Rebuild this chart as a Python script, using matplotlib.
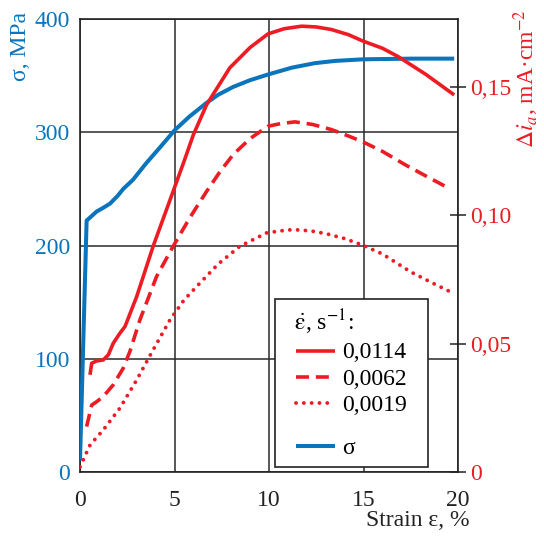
import matplotlib
matplotlib.use("Agg")
import matplotlib.pyplot as plt
from matplotlib.lines import Line2D
from matplotlib.legend_handler import HandlerLine2D

plt.rcParams['font.family'] = 'serif'
plt.rcParams['font.serif'] = ['Liberation Serif', 'DejaVu Serif']
plt.rcParams['mathtext.fontset'] = 'stix'

BLUE = '#0A74BD'
RED = '#ED1C24'

# sigma (left axis, MPa)
eps_sigma = [0, 0.35, 0.88, 1.2, 1.59, 2.0, 2.29, 2.8, 3.52, 4.2, 5.02, 5.8, 6.7, 7.3, 8.1,
             9.0, 9.95, 11.2, 12.42, 13.5, 14.97, 17.5, 19.8]
sigma = [10, 222, 230, 233, 237, 244, 250, 258, 273, 286, 302, 314, 326, 333, 340,
         346, 351, 357, 361, 363, 364.4, 365, 365]

# delta i_a (right axis, mA/cm2)
eps_a = [0.53, 0.62, 0.88, 1.23, 1.5, 1.76, 2.11, 2.38, 3.0, 3.87, 4.76, 5.5, 6.0, 6.7, 7.93,
         9.0, 9.95, 10.8, 11.72, 12.5, 13.3, 14.2, 14.97, 16.0, 16.82, 18.3, 19.8]
di_a = [0.0379, 0.0424, 0.0433, 0.0437, 0.0457, 0.0502, 0.0541, 0.0567, 0.0684, 0.088, 0.106,
        0.121, 0.1315, 0.1432, 0.1576, 0.1655, 0.1708, 0.1728, 0.1738, 0.1735, 0.1725, 0.1705,
        0.168, 0.1652, 0.162, 0.155, 0.147]

eps_b = [0.35, 0.62, 0.88, 1.23, 1.76, 2.29, 2.64, 3.17, 4.05, 4.93, 5.8, 6.7, 7.4, 8.1, 9.0,
         9.95, 10.6, 11.37, 12.3, 13.3, 14.2, 14.97, 16.0, 17.2, 18.4, 19.5]
di_b = [0.0177, 0.0261, 0.0274, 0.0294, 0.034, 0.0405, 0.047, 0.0593, 0.0762, 0.088, 0.099,
        0.1094, 0.117, 0.1237, 0.130, 0.1348, 0.1358, 0.1365, 0.1355, 0.1335, 0.131, 0.1287,
        0.125, 0.1198, 0.115, 0.1107]

eps_c = [0, 0.53, 1.23, 2.11, 3.0, 3.87, 4.76, 5.5, 6.17, 7.3, 8.46, 9.87, 10.6, 11.27, 12.2,
         13.03, 14.0, 14.9, 16.0, 17.5, 18.7, 19.8]
di_c = [0.002, 0.0105, 0.0164, 0.0249, 0.0359, 0.0476, 0.0593, 0.067, 0.0723, 0.081, 0.088,
        0.0932, 0.094, 0.0945, 0.094, 0.0929, 0.091, 0.0886, 0.085, 0.078, 0.0735, 0.0695]

rate_labels = ['0,0114', '0,0062', '0,0019']
x_ticks = [0, 5, 10, 15, 20]
left_ticks = [0, 100, 200, 300, 400]
right_ticks = [0, 0.05, 0.10, 0.15]
right_ticklabels = ['0', '0,05', '0,10', '0,15']


class IndentHandler(HandlerLine2D):
    """Line handle drawn with a left indent, centred on the label's digits."""
    def __init__(self, indent, **kw):
        super().__init__(**kw)
        self.indent = indent

    def create_artists(self, legend, orig_handle, xdescent, ydescent, width, height,
                       fontsize, trans):
        artists = super().create_artists(legend, orig_handle, xdescent - self.indent, ydescent,
                                         width - self.indent, height, fontsize, trans)
        for a in artists:
            yd = a.get_ydata()
            a.set_ydata([0.33 * fontsize] * len(yd))
        return artists


W, H = 544, 536
fig = plt.figure(figsize=(W / 100, H / 100), dpi=100)
ax = fig.add_axes([80 / W, (H - 472) / H, 378 / W, 453 / H])
ax2 = ax.twinx()

FS = 17

ax.set_xlim(0, 20)
ax.set_ylim(0, 400)
ax.set_xticks(x_ticks)
ax.set_yticks(left_ticks)
ax.grid(True, color='#2a2a2a', linewidth=1.1)
ax.set_axisbelow(True)
ax.tick_params(axis='y', length=0, pad=7, labelsize=FS, labelcolor=BLUE)
ax.tick_params(axis='x', length=0, pad=13, labelsize=FS, labelcolor='#222222')
for s in ax.spines.values():
    s.set_color('#222222')
    s.set_linewidth(1.2)

hb, = ax.plot(eps_sigma, sigma, color=BLUE, lw=2.9, solid_capstyle='butt', zorder=3)

ax2.set_ylim(0, 0.1766)
ax2.set_yticks(right_ticks)
ax2.set_yticklabels(right_ticklabels)
ax2.tick_params(axis='y', direction='inout', length=12, width=1.1, color='#222222',
                pad=3, labelsize=FS, labelcolor=RED)
for s in ax2.spines.values():
    s.set_visible(False)

h1, = ax2.plot(eps_a, di_a, color=RED, lw=2.6, solid_capstyle='butt')
h2, = ax2.plot(eps_b, di_b, color=RED, lw=2.6, linestyle=(0, (3.6, 1.9)), dash_capstyle='butt')
h3, = ax2.plot(eps_c, di_c, color=RED, lw=2.8, linestyle=(0, (0.01, 2.0)), dash_capstyle='round')

blank = Line2D([], [], linestyle='none')
fs_px = FS * 100 / 72
indent_px = 9
hmap = {h: IndentHandler(indent_px) for h in (h1, h2, h3, hb)}
leg = ax2.legend([h1, h2, h3, blank, hb], rate_labels + ['', 'σ'],
                 handler_map=hmap,
                 title='  ' + r'$\dot{\mathrm{\varepsilon}}$, s$^{-1}$:', title_fontsize=FS,
                 loc='lower left',
                 bbox_to_anchor=(275 / W, (H - 467) / H, 153 / W, 170 / H),
                 mode='expand',
                 bbox_transform=fig.transFigure, fontsize=FS, frameon=True,
                 fancybox=False, edgecolor='#222222', framealpha=1,
                 handlelength=(indent_px + 43) / fs_px, handletextpad=0.3,
                 labelspacing=0.22, handleheight=0.0,
                 borderpad=0.35, alignment='left', borderaxespad=0)
leg.get_frame().set_linewidth(1.2)
leg.get_texts()[3].set_fontsize(1)
leg.set_zorder(10)

fig.text(20 / W, 1 - 12 / H, 'σ, MPa', rotation=90, ha='center', va='top',
         color=BLUE, fontsize=FS)
fig.text(526 / W, 1 - 9 / H, r'$\Delta i_{a}$, mA·cm$^{-2}$', rotation=90, ha='center',
         va='top', color=RED, fontsize=FS)
fig.text(469 / W, 1 - 521 / H, 'Strain ε, %', ha='right', va='center',
         color='#222222', fontsize=FS)

fig.savefig('out.png', dpi=100)
